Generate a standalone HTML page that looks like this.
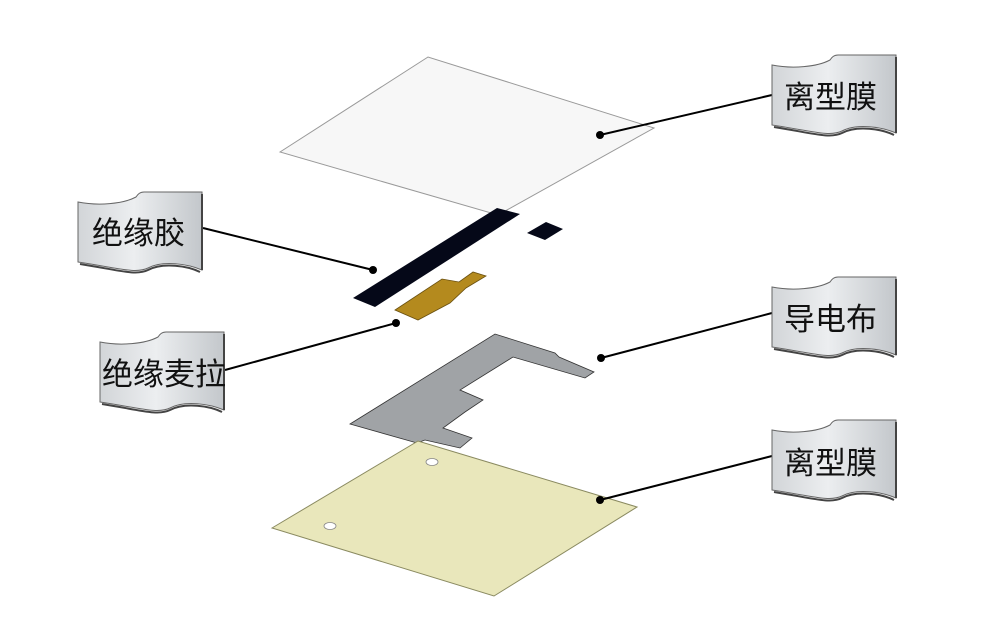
<!DOCTYPE html>
<html><head><meta charset="utf-8"><style>
html,body{margin:0;padding:0;background:#fff;}
svg{display:block}
text{font-family:"Liberation Sans","Noto Sans CJK SC",sans-serif;font-size:31px;fill:#111}
</style></head><body>
<svg width="1000" height="633" viewBox="0 0 1000 633" xmlns="http://www.w3.org/2000/svg">
<defs>
<linearGradient id="g" x1="0" y1="0" x2="1" y2="0">
<stop offset="0" stop-color="#d2d5d8"/><stop offset="0.45" stop-color="#eceef0"/><stop offset="1" stop-color="#c3c7cb"/>
</linearGradient>
<g id="ban">
<path d="M0,10 C20,14 45,12 58,5 C60,2 62,0 66,0 L124,0 L124,78 C110,72 85,68 70,76 C58,82 40,76 0,70 Z" fill="url(#g)" stroke="#666" stroke-width="1"/>
<path d="M2,72 C40,78 58,84 70,78 C85,70 110,74 122,80" fill="none" stroke="#444" stroke-width="2"/>
<path d="M124,2 L124,78" stroke="#444" stroke-width="2"/>
</g>
</defs>
<polygon points="280,152 428,57 654,128 498,215" fill="#f7f7f7" stroke="#999" stroke-width="1"/>
<polygon points="353,298 497,208 520,214 375,307" fill="#050818"/>
<polygon points="527,233 546,222 563,229 545,240" fill="#050818"/>
<polygon points="395,310 442,279 459,282 473,272 486,276 466,288 450,303 418,320" fill="#b48a1e" stroke="#6a5010" stroke-width="0.8"/>
<polygon points="350,424 495,334 555,353 559,357 594,372 585,378 513,357 460,390 483,400 465,412 443,428 472,438 460,448 425,440 417,443" fill="#a0a3a6" stroke="#333" stroke-width="0.8"/>
<polygon points="272,528 418,441 637,507 494,596" fill="#e9e7bb" stroke="#8a8a60" stroke-width="1"/>
<ellipse cx="432" cy="462" rx="6" ry="3.5" fill="#fff" stroke="#888" stroke-width="0.8"/>
<ellipse cx="330" cy="526" rx="6" ry="3.5" fill="#fff" stroke="#888" stroke-width="0.8"/>
<g stroke="#000" stroke-width="2">
<line x1="772" y1="95" x2="600" y2="135"/>
<line x1="203" y1="228" x2="373" y2="270"/>
<line x1="225" y1="370" x2="396" y2="323"/>
<line x1="772" y1="313" x2="601" y2="358"/>
<line x1="772" y1="456" x2="600" y2="500"/>
</g>
<g fill="#000">
<circle cx="600" cy="135" r="4"/><circle cx="373" cy="270" r="4"/><circle cx="396" cy="323" r="4"/><circle cx="601" cy="358" r="4"/><circle cx="600" cy="500" r="4"/>
</g>
<use href="#ban" x="772" y="55"/><text x="784" y="108">离型膜</text>
<use href="#ban" x="78" y="192"/><text x="92" y="244">绝缘胶</text>
<use href="#ban" x="100" y="332"/><text x="102" y="385">绝缘麦拉</text>
<use href="#ban" x="772" y="277"/><text x="784" y="330">导电布</text>
<use href="#ban" x="772" y="420"/><text x="784" y="474">离型膜</text>
</svg>
</body></html>
